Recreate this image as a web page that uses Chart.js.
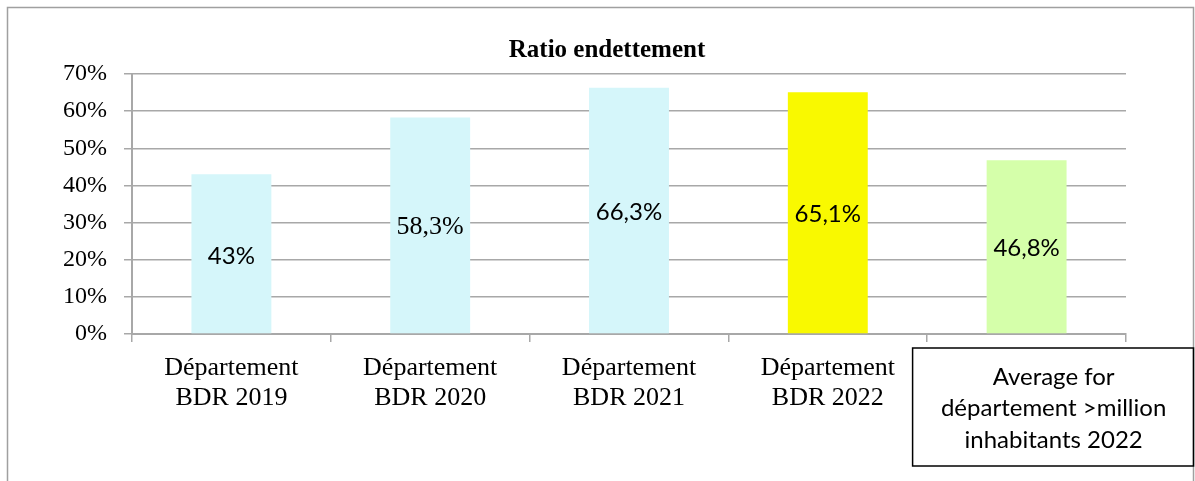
<!DOCTYPE html>
<html>
<head>
<meta charset="utf-8">
<script src="https://cdn.jsdelivr.net/npm/chart.js@4"></script>
<style>
  html, body { margin: 0; padding: 0; background: #fff; }
  #wrap { width: 1195px; height: 481px; position: relative; }
</style>
</head>
<body>
<div id="wrap"><canvas id="dataChart" width="1195" height="481"></canvas></div>
<script>
/* global Chart */
const titleText = 'Ratio endettement'
const categories = [
  ['Département', 'BDR 2019'],
  ['Département', 'BDR 2020'],
  ['Département', 'BDR 2021'],
  ['Département', 'BDR 2022'],
  ['Average for', 'département >million', 'inhabitants 2022']
]
const values = [43, 58.3, 66.3, 65.1, 46.8]
const barColors = ['#d5f6fa', '#d5f6fa', '#d5f6fa', '#f9f900', '#d5ffaa']
const yTicks = [0, 10, 20, 30, 40, 50, 60, 70]

const serif = '"Liberation Serif", "Times New Roman", serif'
const sans = 'Lato, "Liberation Sans", sans-serif'
const gridColor = '#a8a8a8'

// le cadre, le titre, les etiquettes et la boite de la derniere categorie
const decorations = {
  id: 'decorations',
  beforeDraw (chart) {
    const c = chart.ctx
    c.save()
    c.fillStyle = '#fff'
    c.fillRect(0, 0, chart.width, chart.height)
    c.strokeStyle = '#a0a0a0'
    c.lineWidth = 1.5
    c.strokeRect(7.5, 7.5, chart.width - 9, chart.height + 10)
    c.restore()
  },
  afterDatasetsDraw (chart) {
    const c = chart.ctx
    const meta = chart.getDatasetMeta(0)
    c.save()
    c.fillStyle = '#000'
    c.textAlign = 'center'
    c.textBaseline = 'middle'
    meta.data.forEach((bar, i) => {
      const txt = String(values[i]).replace('.', ',') + '%'
      c.font = i === 1 ? '26px ' + serif : '24px ' + sans
      c.fillText(txt, bar.x, (bar.y + bar.base) / 2 + 2)
    })
    c.restore()
  },
  afterDraw (chart) {
    const c = chart.ctx
    const area = chart.chartArea
    c.save()
    c.fillStyle = '#000'
    c.textAlign = 'center'
    c.textBaseline = 'alphabetic'
    c.font = 'bold 25px ' + serif
    c.fillText(titleText, 607, 57)

    // boite de la derniere etiquette
    const x = chart.scales.x
    const left = x.getPixelForValue(4) - 114
    const top = area.bottom + 14
    c.strokeStyle = '#000'
    c.lineWidth = 1.5
    c.strokeRect(left, top, chart.width - left - 1.5, 118)
    c.font = '24px ' + sans
    c.textBaseline = 'middle'
    const cx = left + 141
    categories[4].forEach((line, i) => {
      c.fillText(line, cx, top + 29 + i * 31.5)
    })
    c.restore()
  }
}

const ctx = document.getElementById('dataChart').getContext('2d')
const dataChart = new Chart(ctx, {
  type: 'bar',
  data: {
    labels: categories,
    datasets: [{
      data: values,
      backgroundColor: barColors,
      borderWidth: 0,
      barPercentage: 0.402,
      categoryPercentage: 1
    }]
  },
  options: {
    responsive: false,
    animation: false,
    layout: { padding: { top: 74, right: 69, bottom: 0, left: 0 } },
    plugins: {
      legend: { display: false },
      title: { display: false },
      tooltip: { enabled: false }
    },
    scales: {
      x: {
        afterFit (scale) { scale.height = 147 },
        grid: { drawOnChartArea: false, tickLength: 8, color: gridColor, lineWidth: 1.5 },
        border: { color: gridColor, width: 2 },
        ticks: {
          color: '#000',
          font: { family: serif, size: 26, lineHeight: 1.15 },
          padding: 11,
          maxRotation: 0,
          autoSkip: false,
          callback (v, i) { return i === 4 ? '' : categories[i] }
        }
      },
      y: {
        min: 0,
        max: 70,
        afterFit (scale) { scale.width = 132 },
        afterBuildTicks (scale) { scale.ticks = yTicks.map(v => ({ value: v })) },
        grid: { tickLength: 8, color: gridColor, lineWidth: 1.5 },
        border: { color: gridColor, width: 2 },
        ticks: {
          color: '#000',
          font: { family: serif, size: 24 },
          padding: 17,
          callback: v => v + '%'
        }
      }
    }
  },
  plugins: [decorations]
})
</script>
</body>
</html>
